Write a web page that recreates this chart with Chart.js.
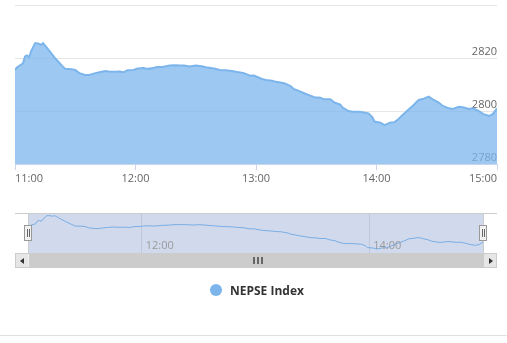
<!DOCTYPE html>
<html>
<head>
<meta charset="utf-8">
<script src="https://cdn.jsdelivr.net/npm/chart.js"></script>
<style>
  body { margin: 0; background: #fff; font-family: "Open Sans", sans-serif; }
  #wrap { position: relative; width: 507px; height: 343px; overflow: hidden; }
  #mainChart { position: absolute; left: 0; top: 0; }
  #navChart { position: absolute; left: 0; top: 213px; }
  .navline { position: absolute; left: 15px; top: 213px; width: 482px; height: 1px; background: #cccccc; }
  .navedge { position: absolute; top: 213px; width: 1px; height: 40px; background: #cccccc; }
  .handle { position: absolute; top: 225px; width: 6px; height: 14px; background: #f2f2f2; border: 1px solid #999; }
  .handle::before, .handle::after { content: ''; position: absolute; top: 3px; width: 1px; height: 8px; background: #666; }
  .handle::before { left: 2px; }
  .handle::after { left: 4px; }
  #scroll { position: absolute; left: 15px; top: 253px; width: 480px; height: 13px; background: #f2f2f2; border: 1px solid #cccccc; }
  #thumb { position: absolute; left: 13px; top: 0; width: 455px; height: 13px; background: #cccccc; }
  .btn { position: absolute; top: 0; width: 12px; height: 13px; background: #e6e6e6; }
  .grip { position: absolute; top: 3px; width: 2px; height: 7px; background: #666; }
  .arrow { position: absolute; top: 4px; width: 0; height: 0; border-top: 3px solid transparent; border-bottom: 3px solid transparent; }
  #legend { position: absolute; left: 210px; top: 282px; height: 16px; display: flex; align-items: center; }
  #legend .dot { width: 12px; height: 12px; border-radius: 50%; background: #7cb5ec; margin-right: 8px; }
  #legend span { font-size: 12px; font-weight: bold; color: #333333; }
  #bottom { position: absolute; left: 0; top: 335px; width: 507px; height: 1px; background: #e0e0e0; }
</style>
</head>
<body>
<div id="wrap">
  <canvas id="mainChart" width="507" height="190"></canvas>
  <canvas id="navChart" width="507" height="40"></canvas>
  <div class="navline"></div>
  <div class="navedge" style="left:28px"></div>
  <div class="navedge" style="left:483px"></div>
  <div class="handle" style="left:24px"></div>
  <div class="handle" style="left:479px"></div>
  <div id="scroll">
    <div class="btn" style="left:0"><div class="arrow" style="left:4px;border-right:4px solid #333"></div></div>
    <div id="thumb">
      <div class="grip" style="left:224px"></div>
      <div class="grip" style="left:228px"></div>
      <div class="grip" style="left:232px"></div>
    </div>
    <div class="btn" style="left:468px"><div class="arrow" style="left:5px;border-left:4px solid #333"></div></div>
  </div>
  <div id="legend"><div class="dot"></div><span>NEPSE Index</span></div>
  <div id="bottom"></div>
</div>
<script>
// minutes after 11:00
const times = [0,1,2,4,5,6,7,8,10,11,13,14,16,18,20,23,25,28,30,32,
  35,37,40,42,45,47,50,52,54,56,59,61,64,66,69,70,74,77,80,82,
  84,87,90,93,95,99,102,105,108,110,114,117,119,123,125,128,130,134,137,139,
  141,144,147,149,152,154,157,159,162,163,166,168,171,173,176,178,179,182,184,187,
  189,191,193,196,198,201,203,206,208,211,213,216,218,221,223,226,228,231,233,236,
  238,240];
const nepseValues = [2815.5,2816.4,2817.0,2818.0,2820.6,2821.0,2820.3,2822.5,2825.6,2825.6,
  2825.0,2825.6,2823.7,2821.8,2819.9,2817.4,2815.9,2815.8,2815.5,2814.3,
  2813.6,2813.6,2814.3,2814.6,2815.1,2814.8,2814.8,2814.9,2814.6,2815.4,
  2815.5,2816.0,2816.2,2815.9,2816.2,2816.5,2816.7,2817.2,2817.3,2817.2,
  2817.2,2816.8,2817.2,2816.9,2816.5,2816.0,2815.5,2815.4,2815.1,2814.8,
  2814.3,2813.3,2813.4,2812.1,2811.7,2811.4,2811.0,2810.5,2809.5,2808.2,
  2807.7,2806.7,2805.8,2805.2,2805.0,2804.4,2804.4,2803.2,2802.4,2801.4,
  2800.0,2799.7,2799.7,2799.5,2799.1,2797.6,2796.0,2795.6,2794.7,2795.7,
  2795.8,2797.0,2798.5,2800.6,2801.9,2804.2,2804.5,2805.4,2804.4,2803.2,
  2801.9,2801.0,2800.8,2801.6,2801.4,2800.8,2801.0,2800.0,2798.9,2798.1,
  2798.9,2801.0];
const tickLabels = ['11:00', '12:00', '13:00', '14:00', '15:00'];
const yTicks = [2780, 2800, 2820, 2840];
const navTicks = [60, 180];

Chart.defaults.font.family = '"Open Sans", sans-serif';
Chart.defaults.font.size = 11;

const points = times.map((t, i) => ({ x: t, y: nepseValues[i] }));

new Chart(document.getElementById('mainChart'), {
    type: 'line',
    data: {
        datasets: [{
            label: 'NEPSE Index',
            data: points,
            borderColor: '#7cb5ec',
            backgroundColor: 'rgba(124,181,236,0.75)',
            borderWidth: 2,
            fill: 'start',
            tension: 0,
            pointRadius: 0
        }]
    },
    options: {
        responsive: false,
        devicePixelRatio: 1,
        animation: false,
        layout: { padding: { left: 15, right: 10, top: 5, bottom: 0 } },
        plugins: { legend: { display: false }, tooltip: { enabled: false } },
        scales: {
            x: {
                type: 'linear',
                min: 0,
                max: 240,
                afterBuildTicks: s => { s.ticks = tickLabels.map((l, i) => ({ value: i * 60 })); },
                afterFit: s => { s.height = 26; s.paddingLeft = 0; s.paddingRight = 0; },
                grid: { drawOnChartArea: false, drawTicks: true, tickLength: 6, color: '#ccd6eb' },
                border: { color: '#ccd6eb' },
                ticks: {
                    color: '#666666',
                    padding: 2,
                    align: 'inner',
                    maxRotation: 0,
                    autoSkip: false,
                    callback: v => tickLabels[v / 60]
                }
            },
            y: {
                position: 'right',
                min: 2780,
                max: 2840,
                afterBuildTicks: s => { s.ticks = yTicks.map(v => ({ value: v })); },
                afterFit: s => { s.width = 0; s.paddingTop = 0; s.paddingBottom = 0; },
                grid: { color: '#e6e6e6', drawTicks: false },
                border: { display: false },
                ticks: {
                    mirror: true,
                    padding: 0,
                    labelOffset: -6,
                    color: '#666666',
                    callback: v => (v === 2840 ? '' : v)
                }
            }
        }
    }
});

// navigator mask + labels
const navPlugin = {
    id: 'navExtras',
    beforeDraw(chart) {
        const a = chart.chartArea;
        const ctx = chart.ctx;
        ctx.save();
        ctx.fillStyle = 'rgb(209,218,237)';
        ctx.fillRect(a.left, a.top, a.right - a.left, a.bottom - a.top);
        ctx.restore();
    },
    afterDraw(chart) {
        const ctx = chart.ctx;
        const xs = chart.scales.x;
        ctx.save();
        ctx.font = '11px "Open Sans", sans-serif';
        ctx.fillStyle = '#999999';
        ctx.textAlign = 'left';
        ctx.textBaseline = 'alphabetic';
        navTicks.forEach(v => {
            ctx.fillText(tickLabels[v / 60], xs.getPixelForValue(v) + 4, 36);
        });
        ctx.restore();
    }
};

new Chart(document.getElementById('navChart'), {
    type: 'line',
    data: {
        datasets: [{
            data: points,
            borderColor: '#78aee6',
            borderWidth: 1,
            fill: false,
            tension: 0,
            pointRadius: 0
        }]
    },
    options: {
        responsive: false,
        devicePixelRatio: 1,
        animation: false,
        layout: { padding: { left: 28, right: 24, top: 0, bottom: 0 } },
        plugins: { legend: { display: false }, tooltip: { enabled: false } },
        scales: {
            x: {
                type: 'linear',
                min: 0,
                max: 240,
                afterBuildTicks: s => { s.ticks = navTicks.map(v => ({ value: v })); },
                afterFit: s => { s.height = 0; s.paddingLeft = 0; s.paddingRight = 0; },
                grid: { color: '#bfc8da', drawTicks: false },
                border: { display: false },
                ticks: { display: false }
            },
            y: {
                min: 2791,
                max: 2828,
                afterFit: s => { s.width = 0; s.paddingTop = 0; s.paddingBottom = 0; },
                grid: { display: false },
                border: { display: false },
                ticks: { display: false }
            }
        }
    },
    plugins: [navPlugin]
});
</script>
</body>
</html>
